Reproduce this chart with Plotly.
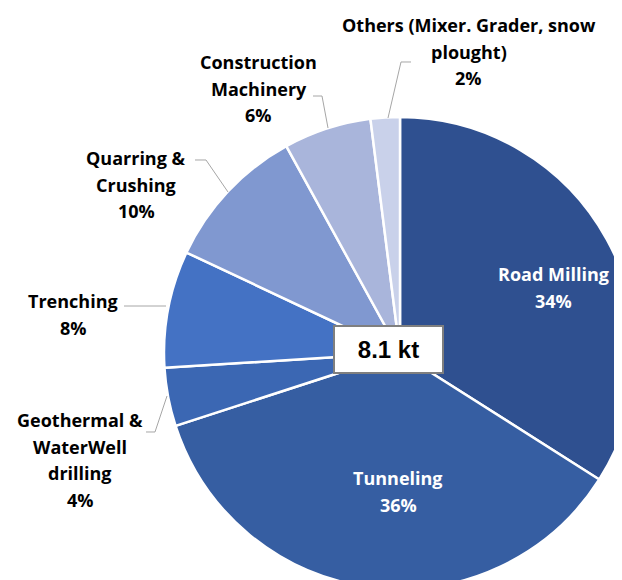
import plotly.graph_objects as go

# machine segments, clockwise from 12 o'clock
segments = ["Road Milling", "Tunneling", "Geothermal & WaterWell drilling", "Trenching",
            "Quarring & Crushing", "Construction Machinery", "Others (Mixer. Grader, snow plought)"]
shares = [34, 36, 4, 8, 10, 6, 2]
colors = ["#2F5090", "#365EA2", "#3B67B3", "#4472C4", "#8098D0", "#A9B5DB", "#C9D1EA"]
total_label = "8.1 kt"

# page puts the plot 8px in from the corner, so the figure is a bit bigger than the window
OFF = 8
W, H = 630, 590
FONT = "Open Sans"


def px(x, y):
    # screen pixel -> paper coords
    return (x - OFF) / W, 1 - (y - OFF) / H


x0, y1 = px(164, 117)
x1, y0 = px(636, 589)
fig = go.Figure(go.Pie(
    labels=segments,
    values=shares,
    sort=False,
    direction="clockwise",
    rotation=0,
    marker=dict(colors=colors, line=dict(color="white", width=2.5)),
    textinfo="none",
    hoverinfo="label+percent",
    domain=dict(x=[x0, x1], y=[y0, y1]),
))


# label text, blocks of lines centred at (x, y0) with a fixed step
def label(lines, x, y0, color="black", step=26.5):
    for i, t in enumerate(lines):
        xx, yy = px(x, y0 + i * step)
        fig.add_annotation(x=xx, y=yy, xref="paper", yref="paper", text="<b>%s</b>" % t,
                           showarrow=False, xanchor="center", yanchor="middle",
                           font=dict(family=FONT, size=18, color=color))


label(["Others (Mixer. Grader, snow", "plought)", "2%"], 469, 25)
label(["Construction", "Machinery", "6%"], 259, 62)
label(["Quarring &", "Crushing", "10%"], 136, 158)
label(["Trenching", "8%"], 73, 301)
label(["Geothermal &", "WaterWell", "drilling", "4%"], 80, 420)
label(["Road Milling", "34%"], 553, 274, color="white")
label(["Tunneling", "36%"], 398, 478, color="white")

# leader lines
leaders = [
    [(411, 62), (401, 62), (388, 118)],
    [(313, 96), (322, 96), (328, 128)],
    [(195, 160), (206, 160), (228, 192)],
    [(124, 306), (166, 306)],
    [(146, 432), (155, 432), (167, 396)],
]
for pts in leaders:
    path = ""
    for i, (x, y) in enumerate(pts):
        xx, yy = px(x, y)
        path += ("M" if i == 0 else " L") + " %f,%f" % (xx, yy)
    fig.add_shape(type="path", path=path, xref="paper", yref="paper",
                  line=dict(color="#A6A6A6", width=1))

# total in the middle
cx, cy = px(388, 349)
fig.add_annotation(x=cx, y=cy, xref="paper", yref="paper", text="<b>%s</b>" % total_label,
                   showarrow=False, font=dict(family="Liberation Sans", size=24, color="black"),
                   bgcolor="white", bordercolor="#7F7F7F", borderwidth=2,
                   width=107, height=45, borderpad=0)

fig.update_layout(
    width=W, height=H,
    margin=dict(l=0, r=0, t=0, b=0),
    paper_bgcolor="white",
    plot_bgcolor="white",
    showlegend=False,
)

fig.write_html("out.html")
